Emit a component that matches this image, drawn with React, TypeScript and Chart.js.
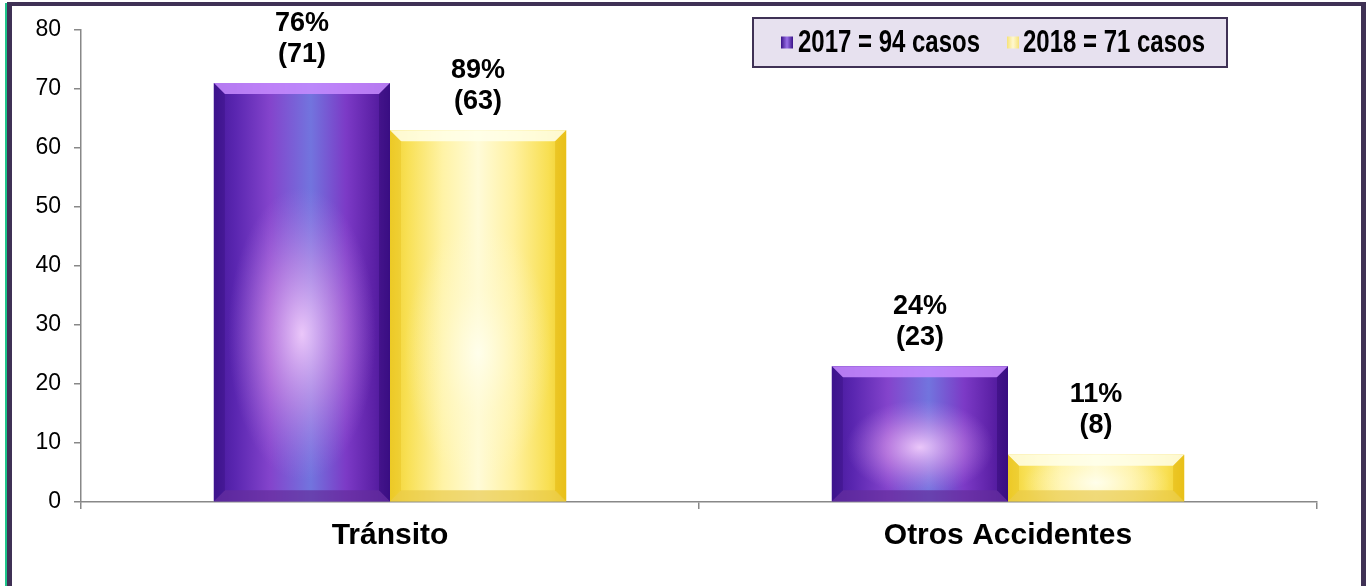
import React, { useEffect, useRef } from "react";
import { Chart, registerables } from "chart.js";

Chart.register(...registerables);

const categories = ["Tránsito", "Otros Accidentes"];
const values2017 = [71, 23];
const values2018 = [63, 8];
const pct2017 = [76, 24];
const pct2018 = [89, 11];
const legendLabels = ["2017 = 94 casos", "2018 = 71 casos"];
const yMin = 0;
const yMax = 80;
const yStep = 10;

const FONT = 'Arial, "Liberation Sans", Helvetica, sans-serif';

const palettes = [
  {
    base: "#5b24b0",
    stops: [
      [0, "#45189a"],
      [0.12, "#5a26b0"],
      [0.32, "#8444cc"],
      [0.55, "#7274de"],
      [0.75, "#7c3ac6"],
      [0.9, "#5e22a8"],
      [1, "#451494"],
    ],
    glow: ["rgba(255,215,255,0.85)", "rgba(235,170,240,0.45)", "rgba(200,140,240,0)"],
    top: "rgba(200,140,255,0.85)",
    bottom: "rgba(100,45,155,0.7)",
    left: "rgba(30,0,90,0.2)",
    right: "rgba(30,0,90,0.3)",
    swatch: ["#3a1288", "#9a70e8", "#3a1288"],
  },
  {
    base: "#f6dc40",
    stops: [
      [0, "#f2d230"],
      [0.1, "#f8e055"],
      [0.3, "#fff3a6"],
      [0.5, "#fffbd8"],
      [0.7, "#fff1a0"],
      [0.9, "#f8df52"],
      [1, "#f0cc26"],
    ],
    glow: ["rgba(255,255,240,0.8)", "rgba(255,250,210,0.4)", "rgba(255,250,210,0)"],
    top: "rgba(255,255,235,0.85)",
    bottom: "rgba(232,200,70,0.65)",
    left: "rgba(225,185,20,0.35)",
    right: "rgba(225,180,10,0.5)",
    swatch: ["#f6e27a", "#fff8d0", "#f6e27a"],
  },
];

const barStylePlugin = {
  id: "barStyle",
  afterDatasetsDraw(chart: any) {
    const ctx = chart.ctx as CanvasRenderingContext2D;
    chart.data.datasets.forEach((_: any, di: number) => {
      const meta = chart.getDatasetMeta(di);
      const pal = palettes[di];
      meta.data.forEach((el: any) => {
        const w = el.width;
        const l = el.x - w / 2;
        const r = el.x + w / 2;
        const t = el.y;
        const bot = el.base;
        const h = bot - t;
        const b = Math.min(11, h / 4);
        ctx.save();
        const g = ctx.createLinearGradient(l, 0, r, 0);
        pal.stops.forEach(([o, c]) => g.addColorStop(o as number, c as string));
        ctx.fillStyle = g;
        ctx.fillRect(l, t, w, h);
        ctx.save();
        ctx.beginPath();
        ctx.rect(l, t, w, h);
        ctx.clip();
        const cy = t + h * 0.6;
        const ry = Math.max(h * 0.35, 30);
        const rx = w * 0.42;
        ctx.translate(el.x, cy);
        ctx.scale(1, ry / rx);
        const rg = ctx.createRadialGradient(0, 0, 0, 0, 0, rx);
        rg.addColorStop(0, pal.glow[0]);
        rg.addColorStop(0.5, pal.glow[1]);
        rg.addColorStop(1, pal.glow[2]);
        ctx.fillStyle = rg;
        ctx.fillRect(-rx, -rx, rx * 2, rx * 2);
        ctx.restore();
        const poly = (pts: number[][], color: string) => {
          ctx.beginPath();
          ctx.moveTo(pts[0][0], pts[0][1]);
          for (let i = 1; i < pts.length; i++) ctx.lineTo(pts[i][0], pts[i][1]);
          ctx.closePath();
          ctx.fillStyle = color;
          ctx.fill();
        };
        poly([[l, t], [r, t], [r - b, t + b], [l + b, t + b]], pal.top);
        poly([[l, bot], [r, bot], [r - b, bot - b], [l + b, bot - b]], pal.bottom);
        poly([[l, t], [l + b, t + b], [l + b, bot - b], [l, bot]], pal.left);
        poly([[r, t], [r - b, t + b], [r - b, bot - b], [r, bot]], pal.right);
        ctx.restore();
      });
    });
  },
};

const labelPlugin = {
  id: "valueLabels",
  afterDatasetsDraw(chart: any) {
    const ctx = chart.ctx as CanvasRenderingContext2D;
    const pcts = [pct2017, pct2018];
    ctx.save();
    ctx.fillStyle = "#000";
    ctx.font = `bold 27px ${FONT}`;
    ctx.textAlign = "center";
    ctx.textBaseline = "middle";
    chart.data.datasets.forEach((ds: any, di: number) => {
      const meta = chart.getDatasetMeta(di);
      meta.data.forEach((el: any, i: number) => {
        ctx.fillText(`${pcts[di][i]}%`, el.x, el.y - 60);
        ctx.fillText(`(${ds.data[i]})`, el.x, el.y - 29);
      });
    });
    ctx.restore();
  },
};

const legendPlugin = {
  id: "customLegend",
  afterDraw(chart: any) {
    const ctx = chart.ctx as CanvasRenderingContext2D;
    ctx.save();
    const bx = 753, by = 18, bw = 474, bh = 49;
    ctx.fillStyle = "#e7e1ef";
    ctx.fillRect(bx, by, bw, bh);
    ctx.strokeStyle = "#3f3155";
    ctx.lineWidth = 2;
    ctx.strokeRect(bx, by, bw, bh);
    const items = [
      { sx: 781, tx: 798 },
      { sx: 1007, tx: 1023 },
    ];
    const cy = by + bh / 2;
    ctx.font = `bold 31px ${FONT}`;
    ctx.textBaseline = "middle";
    ctx.textAlign = "left";
    items.forEach((it, i) => {
      const pal = palettes[i];
      const sg = ctx.createLinearGradient(it.sx, 0, it.sx + 12, 0);
      sg.addColorStop(0, pal.swatch[0]);
      sg.addColorStop(0.5, pal.swatch[1]);
      sg.addColorStop(1, pal.swatch[2]);
      ctx.fillStyle = sg;
      ctx.fillRect(it.sx, cy - 6, 12, 12);
      const text = chart.data.datasets[i].label;
      const mw = ctx.measureText(text).width;
      const sc = 182 / mw;
      ctx.save();
      ctx.translate(it.tx, cy + 1);
      ctx.scale(sc, 1);
      ctx.fillStyle = "#000";
      ctx.fillText(text, 0, 0);
      ctx.restore();
    });
    ctx.restore();
  },
};

export default function App() {
  const ref = useRef<HTMLCanvasElement | null>(null);
  useEffect(() => {
    if (!ref.current) return;
    const chart = new Chart(ref.current, {
      type: "bar",
      data: {
        labels: categories,
        datasets: [
          { label: legendLabels[0], data: values2017, backgroundColor: palettes[0].base, borderWidth: 0 },
          { label: legendLabels[1], data: values2018, backgroundColor: palettes[1].base, borderWidth: 0 },
        ],
      },
      options: {
        animation: false,
        responsive: false,
        devicePixelRatio: 1,
        layout: { padding: { top: 30, right: 50, left: 0, bottom: 0 } },
        datasets: { bar: { categoryPercentage: 0.57, barPercentage: 1 } },
        plugins: { legend: { display: false }, tooltip: { enabled: false } },
        scales: {
          x: {
            grid: { display: true, drawOnChartArea: false, offset: true, tickLength: 7, color: "#888", lineWidth: 1.5 },
            border: { color: "#888", width: 1.5 },
            ticks: { font: { family: FONT, size: 30, weight: "bold" }, color: "#000", padding: 9 },
            afterFit: (s: any) => { s.height = 84; },
          },
          y: {
            min: yMin,
            max: yMax,
            ticks: { stepSize: yStep, font: { family: FONT, size: 23 }, color: "#000", padding: 13 },
            grid: { display: true, drawOnChartArea: false, tickLength: 7, color: "#888", lineWidth: 1.5 },
            border: { color: "#888", width: 1.5 },
            afterFit: (s: any) => { s.width = 81; },
          },
        },
      } as any,
      plugins: [barStylePlugin, labelPlugin, legendPlugin],
    });
    return () => chart.destroy();
  }, []);

  return (
    <div style={{ position: "absolute", left: 0, top: 0, width: 1367, height: 586, background: "#fff", overflow: "hidden" }}>
      <canvas ref={ref} width={1367} height={586} style={{ position: "absolute", left: 0, top: 0 }} />
      <div style={{ position: "absolute", left: 5, top: 3, width: 2, height: 583, background: "#1fc48a" }} />
      <div style={{ position: "absolute", left: 7, top: 2, width: 5, height: 584, background: "#3f3155" }} />
      <div style={{ position: "absolute", left: 7, top: 2, width: 1359, height: 4, background: "#3f3155" }} />
      <div style={{ position: "absolute", left: 1361, top: 2, width: 5, height: 584, background: "#3f3155" }} />
    </div>
  );
}
